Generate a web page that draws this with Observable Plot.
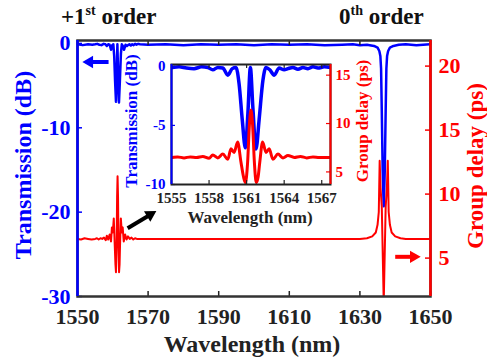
<!DOCTYPE html>
<html><head><meta charset="utf-8">
<script src="https://cdn.jsdelivr.net/npm/d3@7"></script>
<script src="https://cdn.jsdelivr.net/npm/@observablehq/plot@0.6"></script>
<style>
html,body{margin:0;padding:0;background:#fff;}
#chart{position:relative;width:487px;height:362px;overflow:hidden;background:#fff;}
#chart svg{position:absolute;left:0;top:0;}
</style></head><body><div id="chart"></div>
<script>
// ---------- data ----------
// +1st order resonance (also shown in the inset)
const firstTransWl = [1550, 1551.5, 1553, 1554.2, 1555, 1555.6, 1556.2, 1556.8, 1557.4, 1557.9, 1558.3, 1558.7, 1559.1, 1559.5, 1559.85, 1560.15, 1560.4, 1560.65, 1560.9, 1561.1, 1561.3, 1561.5, 1561.75, 1562.0, 1562.3, 1562.55, 1562.85, 1563.2, 1563.6, 1564.0, 1564.3, 1564.7, 1565.1, 1565.5, 1565.9, 1566.3, 1566.7, 1567.2, 1567.7];
const firstTrans   = [-0.1, -0.2, -0.1, -0.15, -0.1, -0.05, -0.15, -0.2, -0.05, -0.1, -0.3, -0.1, -0.15, -0.75, -0.2, -0.1, -1.5, -4.5, -6.9, -4.0, -0.1, -3.5, -7.0, -4.5, -1.2, -0.1, -0.3, -0.75, -0.15, -0.3, -0.2, -0.1, -0.25, -0.1, -0.2, -0.05, -0.15, -0.05, -0.1];
const firstDelayWl = [1550, 1551, 1552, 1553, 1554, 1555, 1555.5, 1556, 1556.5, 1557, 1557.5, 1558.0, 1558.3, 1558.7, 1559.1, 1559.5, 1559.75, 1560.0, 1560.28, 1560.55, 1560.75, 1560.9, 1561.08, 1561.22, 1561.35, 1561.48, 1561.62, 1561.77, 1561.92, 1562.05, 1562.28, 1562.55, 1562.8, 1563.1, 1563.5, 1563.9, 1564.3, 1564.8, 1565.3, 1565.8, 1566.3, 1566.8, 1567.7];
const firstDelay   = [6.5, 6.45, 6.55, 6.5, 6.45, 6.5, 6.55, 6.45, 6.55, 6.5, 6.6, 6.4, 6.75, 6.45, 6.85, 6.3, 7.4, 7.0, 8.1, 6.0, 4.5, 3.9, 6.0, 9.8, 11.4, 9.8, 6.0, 3.9, 4.5, 6.0, 8.1, 7.0, 7.4, 6.3, 6.85, 6.45, 6.7, 6.5, 6.6, 6.45, 6.55, 6.5, 6.5];
// flat region between the two orders
const midTransWl = [1570, 1575, 1580, 1585, 1590, 1595, 1600, 1605, 1610, 1615, 1620, 1625, 1628, 1630];
const midTrans   = [-0.15, -0.1, -0.2, -0.1, -0.15, -0.1, -0.2, -0.1, -0.15, -0.1, -0.2, -0.15, -0.1, -0.2];
const midDelayWl = [1570, 1580, 1590, 1600, 1610, 1620, 1628];
const midDelay   = [6.5, 6.5, 6.5, 6.5, 6.5, 6.5, 6.5];
// 0th order resonance
const zerothTransWl = [1632, 1634, 1635, 1635.5, 1635.8, 1636.0, 1636.2, 1636.45, 1636.75, 1637.05, 1637.3, 1637.5, 1637.7, 1638.0, 1638.5, 1639.5, 1641];
const zerothTrans   = [-0.15, -0.3, -0.5, -0.9, -1.5, -3, -8, -15, -19.3, -15, -8, -3, -1.5, -0.9, -0.5, -0.3, -0.15];
const zerothDelayWl = [1630, 1632, 1633.5, 1634.5, 1635.0, 1635.35, 1635.6, 1635.85, 1636.2, 1636.75, 1637.3, 1637.65, 1637.9, 1638.15, 1638.5, 1639, 1640, 1641.5, 1643];
const zerothDelay   = [6.5, 6.55, 6.7, 7.0, 7.6, 8.6, 12.6, 10.5, 9.0, 1.5, 9.0, 10.5, 12.6, 8.6, 7.6, 7.0, 6.7, 6.55, 6.5];
const endTransWl = [1643, 1646, 1650];
const endTrans   = [-0.1, -0.2, -0.1];
const endDelayWl = [1646, 1650];
const endDelay   = [6.5, 6.5];

// tick values
const mainXTicks = [1550, 1570, 1590, 1610, 1630, 1650];
const transTicks = [-30, -20, -10, 0];
const delayTicks = [5, 10, 15, 20];
const insetXTicks = [1555, 1558, 1561, 1564, 1567];
const insetTransTicks = [-10, -5, 0];
const insetDelayTicks = [5, 10, 15];

// annotation arrows (data coordinates): shaft and head position/angle
const blueArrow  = [{x1: 1558.8, y1: -2.2, x2: 1553.4, y2: -2.2, hx: 1553.4, hy: -2.2, a: -90}];
const blackArrow = [{x1: 1564.2, y1: -21.9, x2: 1570.6, y2: -20.3, hx: 1570.6, hy: -20.3, a: 59}];
const redArrow   = [{x1: 1640.0, y1: 5.1, x2: 1645.2, y2: 5.1, hx: 1645.2, hy: 5.1, a: 90}];

// ---------- build tables ----------
const zip = (xs, ys) => xs.map((x, i) => ({wl: x, v: ys[i]}));
const mainTrans = zip([...firstTransWl, ...midTransWl, ...zerothTransWl, ...endTransWl], [...firstTrans, ...midTrans, ...zerothTrans, ...endTrans]);
const mainDelay = zip([...firstDelayWl, ...midDelayWl, ...zerothDelayWl, ...endDelayWl], [...firstDelay, ...midDelay, ...zerothDelay, ...endDelay]);
const insetTrans = zip(firstTransWl, firstTrans);
const insetDelay = zip(firstDelayWl, firstDelay);

const W = 487, H = 362;
const FONT = '"Liberation Serif","Times New Roman",serif';
const BLUE = "#0000ff", RED = "#ff0000", DARK = "#222";
const M = {marginLeft: 77, marginRight: 57, marginTop: 40, marginBottom: 66};
const I = {marginLeft: 171, marginRight: 157, marginTop: 64, marginBottom: 178};
const mW = W - M.marginLeft - M.marginRight, mH = H - M.marginTop - M.marginBottom;
const iW = W - I.marginLeft - I.marginRight, iH = H - I.marginTop - I.marginBottom;
const mainX = [1550, 1650], mainYT = [-30, 0.35], mainYD = [2, 22];
const insX = [1555, 1567.7], insYT = [-10, 0.15], insYD = [3.7, 16.1];
const fmt = d => String(d);
const styleFor = (fs) => ({background: "transparent", fontFamily: FONT, fontWeight: "bold", fontSize: fs + "px", overflow: "visible"});
const arrowMarks = (data, color, r) => [
  Plot.link(data, {x1: "x1", y1: "y1", x2: "x2", y2: "y2", stroke: color, strokeWidth: 4}),
  Plot.dot(data, {x: "hx", y: "hy", symbol: "triangle", r: r, rotate: "a", fill: color, stroke: null})
];

const layers = [];
// main transmission layer
layers.push(Plot.plot({
  width: W, height: H, ...M, style: styleFor(22),
  x: {domain: mainX}, y: {domain: mainYT},
  marks: [
    Plot.line(mainTrans, {x: "wl", y: "v", stroke: BLUE, strokeWidth: 2.5, clip: true}),
    Plot.tickY(transTicks, {y: d => d, insetRight: mW - 5, stroke: BLUE, strokeWidth: 1.5}),
    Plot.axisY(transTicks, {anchor: "left", tickSize: 0, tickPadding: 7, color: BLUE, fill: BLUE, tickFormat: fmt, label: null}),
    Plot.axisX(mainXTicks, {anchor: "bottom", tickSize: 0, tickPadding: 12, color: DARK, fill: DARK, tickFormat: fmt, label: null}),
    ...arrowMarks(blueArrow, BLUE, 4.6),
    ...arrowMarks(blackArrow, "#000", 4.6)
  ]
}));
// main group delay layer
layers.push(Plot.plot({
  width: W, height: H, ...M, style: styleFor(22),
  x: {domain: mainX, axis: null}, y: {domain: mainYD},
  marks: [
    Plot.line(mainDelay, {x: "wl", y: "v", stroke: RED, strokeWidth: 2, clip: true}),
    Plot.tickY(delayTicks, {y: d => d, insetLeft: mW - 5, stroke: RED, strokeWidth: 1.5}),
    Plot.axisY(delayTicks, {anchor: "right", tickSize: 0, tickPadding: 8, color: RED, fill: RED, tickFormat: fmt, label: null}),
    Plot.tickX(mainXTicks, {x: d => d, insetTop: mH - 5, stroke: DARK, strokeWidth: 1.5}),
    Plot.tickX(mainXTicks, {x: d => d, insetBottom: mH - 5, stroke: DARK, strokeWidth: 1.5}),
    Plot.frame({stroke: "#333", strokeWidth: 2.5}),
    Plot.ruleX([mainX[0]], {stroke: BLUE, strokeWidth: 2.5}),
    Plot.ruleX([mainX[1]], {stroke: RED, strokeWidth: 2.5}),
    ...arrowMarks(redArrow, RED, 4.6)
  ]
}));
// inset transmission
layers.push(Plot.plot({
  width: W, height: H, ...I, style: styleFor(15),
  x: {domain: insX}, y: {domain: insYT},
  marks: [
    Plot.frame({fill: "#fff", stroke: "none"}),
    Plot.line(insetTrans, {x: "wl", y: "v", stroke: BLUE, strokeWidth: 3.5, curve: "monotone-x", clip: true}),
    Plot.tickY(insetTransTicks, {y: d => d, insetRight: iW - 4, stroke: BLUE, strokeWidth: 1.2}),
    Plot.axisY(insetTransTicks, {anchor: "left", tickSize: 0, tickPadding: 6, color: BLUE, fill: BLUE, tickFormat: fmt, label: null}),
    Plot.axisX(insetXTicks, {anchor: "bottom", tickSize: 0, tickPadding: 8, color: DARK, fill: DARK, tickFormat: fmt, label: null})
  ]
}));
// inset group delay
layers.push(Plot.plot({
  width: W, height: H, ...I, style: styleFor(15),
  x: {domain: insX, axis: null}, y: {domain: insYD},
  marks: [
    Plot.line(insetDelay, {x: "wl", y: "v", stroke: RED, strokeWidth: 3, curve: "monotone-x", clip: true}),
    Plot.tickY(insetDelayTicks, {y: d => d, insetLeft: iW - 4, stroke: RED, strokeWidth: 1.2}),
    Plot.axisY(insetDelayTicks, {anchor: "right", tickSize: 0, tickPadding: 5, color: RED, fill: RED, tickFormat: fmt, label: null}),
    Plot.tickX(insetXTicks, {x: d => d, insetTop: iH - 4, stroke: DARK, strokeWidth: 1.2}),
    Plot.tickX(insetXTicks, {x: d => d, insetBottom: iH - 4, stroke: DARK, strokeWidth: 1.2}),
    Plot.frame({stroke: "#222", strokeWidth: 2}),
    Plot.ruleX([insX[0]], {stroke: BLUE, strokeWidth: 2}),
    Plot.ruleX([insX[1]], {stroke: RED, strokeWidth: 2})
  ]
}));

const chartDiv = document.getElementById("chart");
layers.forEach(s => chartDiv.appendChild(s));

// ---------- titles and axis labels (real text) ----------
const overlay = d3.select(layers[layers.length - 1]);
const g = overlay.append("g").attr("font-family", FONT).attr("font-weight", "bold");
function label(txt, x, y, size, fill, rotate, anchor) {
  return g.append("text").attr("x", 0).attr("y", 0).attr("font-size", size).attr("fill", fill)
    .attr("text-anchor", anchor || "middle")
    .attr("transform", `translate(${x},${y})` + (rotate ? ` rotate(${rotate})` : ""))
    .text(txt);
}
function sup(base, s, rest, x, y) {
  const t = g.append("text").attr("x", x).attr("y", y).attr("font-size", 23).attr("fill", "#111").attr("text-anchor", "start");
  t.append("tspan").text(base);
  t.append("tspan").attr("font-size", 14).attr("dy", -9).text(s);
  t.append("tspan").attr("dy", 9).text(rest);
}
sup("+1", "st", " order", 61, 24);
sup("0", "th", " order", 339, 24);
label("Transmission (dB)", 31, 165, 24, BLUE, -90);
label("Group delay (ps)", 483, 166, 23, RED, -90);
label("Wavelength (nm)", 252, 352, 24, DARK);
label("Transmission (dB)", 137, 121, 17, BLUE, -90);
label("Group delay (ps)", 368, 121, 17, RED, -90);
label("Wavelength (nm)", 250, 223, 17, DARK);
</script></body></html>
